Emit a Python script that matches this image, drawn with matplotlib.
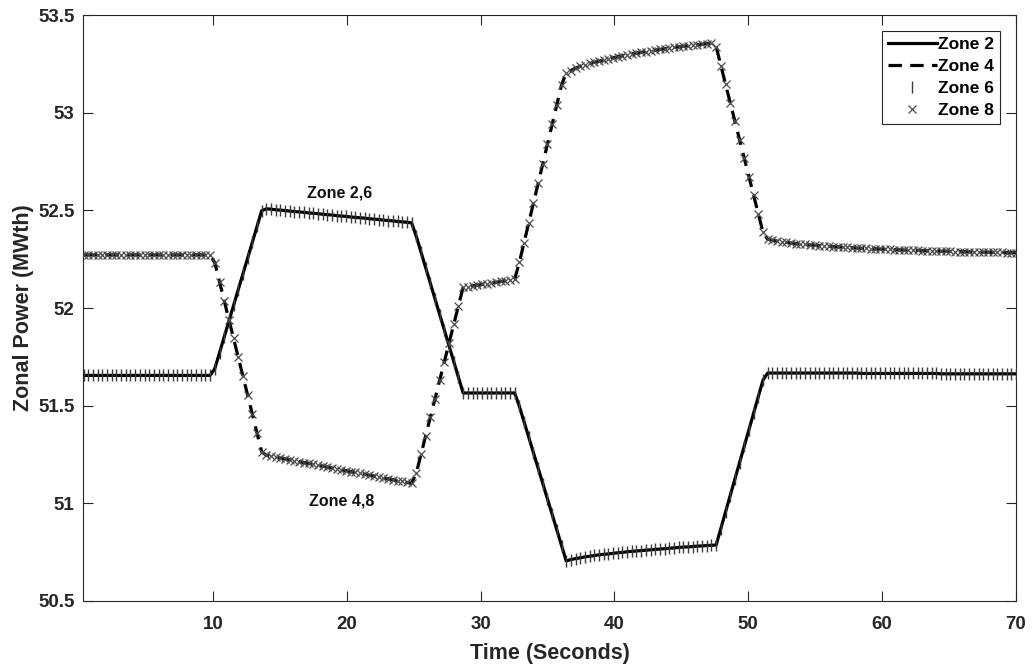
import numpy as np
import matplotlib
matplotlib.use("Agg")
import matplotlib.pyplot as plt

plt.rcParams['font.family'] = ['Liberation Sans', 'DejaVu Sans']
plt.rcParams['font.weight'] = 'bold'

# Sampling instants (s), every 0.35 s up to 70 s
time_s = np.arange(1, 201) * 0.35

# Zonal power (MWth)
zone2_power = (
    [51.655] * 28
    + [51.690, 51.771, 51.851, 51.932, 52.013, 52.094, 52.175, 52.256,
       52.337, 52.418, 52.498]
    + [52.508, 52.506, 52.503, 52.501, 52.499, 52.496, 52.494, 52.492,
       52.490, 52.487, 52.485, 52.483, 52.480, 52.478, 52.476, 52.473,
       52.471, 52.469, 52.466, 52.464, 52.462, 52.460, 52.457, 52.455,
       52.453, 52.450, 52.448, 52.446, 52.443, 52.441, 52.439, 52.436]
    + [52.367, 52.287, 52.207, 52.127, 52.046, 51.966, 51.886, 51.806,
       51.725, 51.645, 51.565]
    + [51.565] * 11
    + [51.497, 51.418, 51.339, 51.260, 51.180, 51.101, 51.022, 50.943,
       50.863, 50.784, 50.705]
    + [50.712, 50.717, 50.721, 50.726, 50.729, 50.733, 50.736, 50.739,
       50.741, 50.744, 50.747, 50.749, 50.752, 50.754, 50.756, 50.758,
       50.760, 50.762, 50.764, 50.766, 50.768, 50.770, 50.772, 50.774,
       50.776, 50.777, 50.779, 50.781, 50.782, 50.784, 50.785, 50.787]
    + [50.871, 50.956, 51.040, 51.125, 51.209, 51.293, 51.378, 51.462,
       51.546, 51.631, 51.667]
    + [51.667] * 19 + [51.665] * 17 + [51.663] * 17
)

zone4_power = (
    [52.272] * 28
    + [52.231, 52.134, 52.037, 51.941, 51.844, 51.747, 51.651, 51.554,
       51.457, 51.361, 51.264]
    + [51.246, 51.241, 51.237, 51.232, 51.228, 51.223, 51.218, 51.214,
       51.209, 51.204, 51.200, 51.195, 51.191, 51.186, 51.181, 51.177,
       51.172, 51.167, 51.163, 51.158, 51.153, 51.149, 51.144, 51.140,
       51.135, 51.130, 51.126, 51.121, 51.116, 51.112, 51.107, 51.103]
    + [51.155, 51.251, 51.346, 51.441, 51.536, 51.631, 51.726, 51.822,
       51.917, 52.012, 52.107]
    + [52.110, 52.114, 52.117, 52.121, 52.125, 52.129, 52.132, 52.136,
       52.140, 52.144, 52.148]
    + [52.234, 52.335, 52.436, 52.537, 52.638, 52.739, 52.840, 52.941,
       53.041, 53.142, 53.205]
    + [53.216, 53.228, 53.237, 53.245, 53.252, 53.258, 53.264, 53.270,
       53.276, 53.281, 53.287, 53.292, 53.296, 53.301, 53.305, 53.309,
       53.313, 53.317, 53.320, 53.324, 53.327, 53.331, 53.334, 53.337,
       53.340, 53.343, 53.346, 53.348, 53.351, 53.354, 53.356, 53.338]
    + [53.241, 53.146, 53.052, 52.957, 52.862, 52.767, 52.672, 52.577,
       52.482, 52.387, 52.352]
    + [52.347, 52.343, 52.339, 52.336, 52.333, 52.330, 52.328, 52.326,
       52.323, 52.321, 52.319, 52.317, 52.316, 52.314, 52.313, 52.312,
       52.310, 52.309, 52.307, 52.306, 52.305, 52.304, 52.303, 52.302,
       52.301, 52.300, 52.299, 52.298, 52.297, 52.296, 52.296, 52.295,
       52.294, 52.293, 52.293, 52.292, 52.291, 52.291, 52.290, 52.289,
       52.289, 52.288, 52.288, 52.287, 52.287, 52.286, 52.286, 52.285,
       52.285, 52.285, 52.284, 52.284, 52.284]
)

# Symmetric core: zone 6 mirrors zone 2, zone 8 mirrors zone 4
zone6_power = list(zone2_power)
zone8_power = list(zone4_power)

x_ticks = [10, 20, 30, 40, 50, 60, 70]
y_ticks = [50.5, 51, 51.5, 52, 52.5, 53, 53.5]
y_tick_labels = ['50.5', '51', '51.5', '52', '52.5', '53', '53.5']

axis_gray = '#262626'

fig = plt.figure(figsize=(10.32, 6.68), dpi=100)
ax = fig.add_axes([0.0804, 0.1003, 0.9041, 0.8772])

ax.plot(time_s, zone2_power, color='black', lw=2.3, label='Zone 2', zorder=3)
ax.plot(time_s, zone4_power, color='black', lw=2.3, ls=(0, (4.2, 2.6)),
        label='Zone 4', zorder=3)
ax.plot(time_s, zone6_power, ls='none', marker='|', ms=8, mew=1.0,
        color='#3a3a3a', label='Zone 6', zorder=4)
ax.plot(time_s, zone8_power, ls='none', marker='x', ms=5.5, mew=0.9,
        color='#4a4a4a', label='Zone 8', zorder=4)

ax.text(19.5, 52.59, 'Zone 2,6', ha='center', va='center', fontsize=11.5,
        fontweight='bold', color='#111111')
ax.text(19.6, 51.01, 'Zone 4,8', ha='center', va='center', fontsize=11.5,
        fontweight='bold', color='#111111')

ax.set_xlim(0.3, 70)
ax.set_ylim(50.5, 53.5)
ax.set_xticks(x_ticks)
ax.set_xticklabels([str(v) for v in x_ticks])
ax.set_yticks(y_ticks)
ax.set_yticklabels(y_tick_labels)

ax.tick_params(direction='in', length=7, width=0.8, colors=axis_gray,
               labelsize=13.5, top=True, right=True, pad=11)
ax.tick_params(axis='y', pad=6)
for lbl in ax.get_xticklabels() + ax.get_yticklabels():
    lbl.set_fontweight('bold')
for sp in ax.spines.values():
    sp.set_color(axis_gray)
    sp.set_linewidth(0.8)

ax.set_xlabel('Time (Seconds)', fontsize=15.5, fontweight='bold',
              color=axis_gray, labelpad=7)
ax.set_ylabel('Zonal Power (MWth)', fontsize=15.5, fontweight='bold',
              color=axis_gray, labelpad=3)

leg = ax.legend(loc='upper right', fontsize=12.5, frameon=True, fancybox=False,
                edgecolor='#262626', framealpha=1, handlelength=2.8,
                handletextpad=0.1, labelspacing=0.4, borderpad=0.35,
                borderaxespad=0.9, markerfirst=True)
leg.get_frame().set_linewidth(0.8)
for t in leg.get_texts():
    t.set_fontweight('bold')

fig.savefig('out.png', dpi=100, facecolor='white')
